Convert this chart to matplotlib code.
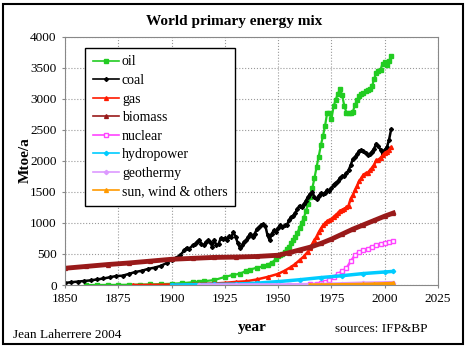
import matplotlib.pyplot as plt
from matplotlib.patches import Rectangle

plt.rcParams['font.family'] = ['Liberation Serif', 'DejaVu Serif']

# oil
oil_years = [1860, 1865, 1870, 1875, 1880, 1885, 1890, 1895, 1900, 1905, 1910, 1913, 1915,
             1920, 1925, 1929, 1932, 1935, 1937, 1940, 1943, 1945, 1947, 1949,
             1950, 1951, 1952, 1953, 1954, 1955, 1956, 1957, 1958, 1959, 1960, 1961, 1962,
             1963, 1964, 1965, 1966, 1967, 1968, 1969, 1970, 1971, 1972, 1973, 1974, 1975,
             1976, 1977, 1978, 1979, 1980, 1981, 1982, 1983, 1984, 1985, 1986, 1987, 1988,
             1989, 1990, 1991, 1992, 1993, 1994, 1995, 1996, 1997, 1998, 1999, 2000, 2001,
             2002, 2003]
oil = [0, 1, 1, 2, 4, 6, 10, 14, 20, 30, 45, 55, 60,
       80, 130, 165, 180, 230, 250, 280, 300, 330, 360, 420,
       460, 490, 500, 540, 575, 620, 670, 720, 770, 840, 920, 1000, 1080,
       1190, 1300, 1420, 1560, 1720, 1900, 2070, 2250, 2400, 2570, 2780, 2770, 2680,
       2880, 2990, 3080, 3160, 3060, 2890, 2780, 2770, 2780, 2790, 2900, 2980, 3040,
       3080, 3100, 3120, 3140, 3160, 3200, 3320, 3420, 3450, 3470, 3570, 3590, 3550,
       3610, 3690]

# coal
coal_years = [1850, 1853, 1856, 1859, 1862, 1865, 1868, 1871, 1874, 1877, 1880, 1883, 1886,
              1889, 1892, 1895, 1898, 1900, 1902, 1904, 1906, 1907, 1908, 1910, 1911, 1912,
              1913, 1914, 1915, 1916, 1917, 1918, 1919, 1920, 1921, 1922, 1923, 1924, 1925,
              1926, 1927, 1928, 1929, 1930, 1931, 1932, 1933, 1934, 1935, 1936, 1937, 1938,
              1939, 1940, 1941, 1942, 1943, 1944, 1945, 1946, 1947, 1948, 1949, 1950, 1951,
              1952, 1953, 1954, 1955, 1956, 1957, 1958, 1959, 1960, 1961, 1962, 1963, 1964,
              1965, 1966, 1967, 1968, 1969, 1970, 1971, 1972, 1973, 1974, 1975, 1976, 1977,
              1978, 1979, 1980, 1981, 1982, 1983, 1984, 1985, 1986, 1987, 1988, 1989, 1990,
              1991, 1992, 1993, 1994, 1995, 1996, 1997, 1998, 1999, 2000, 2001, 2002, 2003]
coal = [35, 45, 55, 65, 75, 90, 105, 125, 145, 150, 180, 210, 230,
        260, 280, 310, 360, 410, 440, 480, 560, 600, 580, 640, 660, 700,
        730, 660, 640, 690, 720, 700, 620, 730, 640, 660, 750, 740, 750,
        720, 790, 780, 850, 780, 680, 600, 640, 700, 720, 780, 830, 780,
        830, 900, 930, 960, 980, 950, 800, 720, 830, 880, 860, 920, 960,
        940, 960, 960, 1040, 1090, 1120, 1160, 1230, 1280, 1250, 1300, 1360, 1420,
        1470, 1500, 1420, 1380, 1440, 1480, 1470, 1490, 1530, 1520, 1560, 1620, 1650,
        1670, 1730, 1750, 1760, 1800, 1850, 1930, 2030, 2060, 2110, 2160, 2180, 2160,
        2120, 2100, 2110, 2150, 2200, 2280, 2240, 2180, 2110, 2180, 2220, 2340, 2510]

# gas
gas_years = [1882, 1890, 1900, 1910, 1920, 1925, 1930, 1935, 1940, 1945, 1950, 1953, 1956,
             1958, 1960, 1962, 1964, 1965, 1966, 1967, 1968, 1969, 1970, 1971, 1972, 1973,
             1974, 1975, 1976, 1977, 1978, 1979, 1980, 1981, 1982, 1983, 1984, 1985, 1986,
             1987, 1988, 1989, 1990, 1991, 1992, 1993, 1994, 1995, 1996, 1997, 1998, 1999,
             2000, 2001, 2002, 2003]
gas = [0, 2, 8, 15, 25, 35, 50, 60, 90, 130, 180, 230, 290,
       340, 400, 460, 540, 600, 660, 720, 780, 850, 910, 960, 1000, 1030,
       1040, 1060, 1100, 1130, 1160, 1200, 1210, 1230, 1250, 1280, 1390, 1450, 1530,
       1600, 1680, 1720, 1780, 1800, 1810, 1850, 1890, 1940, 2010, 2020, 2050, 2090,
       2130, 2150, 2170, 2220]

# biomass
bio_years = [1850, 1860, 1870, 1880, 1890, 1900, 1910, 1920, 1930, 1940, 1950, 1955, 1960,
             1965, 1970, 1975, 1980, 1985, 1990, 1995, 2000, 2004]
biomass = [270, 300, 330, 355, 385, 415, 430, 445, 450, 460, 480, 520, 565,
           610, 670, 740, 820, 900, 970, 1040, 1110, 1160]

# nuclear
nuc_years = [1955, 1960, 1965, 1968, 1970, 1972, 1974, 1976, 1978, 1980, 1982, 1984, 1986,
             1988, 1990, 1992, 1994, 1996, 1998, 2000, 2002, 2004]
nuclear = [0, 3, 10, 20, 30, 50, 80, 130, 180, 220, 270, 380, 480,
           530, 560, 580, 620, 640, 660, 680, 700, 710]

# hydropower
hyd_years = [1900, 1910, 1920, 1930, 1940, 1950, 1960, 1970, 1980, 1990, 2000, 2004]
hydro = [0, 5, 10, 15, 30, 55, 85, 120, 150, 185, 210, 220]

# geothermy
geo_years = [1913, 1930, 1950, 1960, 1970, 1980, 1990, 2000, 2004]
geo = [0, 1, 2, 5, 10, 20, 30, 35, 38]

# sun, wind & others
sun_years = [1965, 1970, 1975, 1980, 1985, 1990, 1995, 2000, 2004]
sun = [0, 1, 2, 5, 7, 10, 15, 20, 25]

fig = plt.figure(figsize=(4.68, 3.51), dpi=100)
ax = fig.add_axes([0.139, 0.188, 0.797, 0.707])

ax.plot(oil_years, oil, color='#22cc22', marker='s', ms=2.8, lw=1.6, label='oil')
ax.plot(coal_years, coal, color='black', marker='D', ms=2, lw=1.8, label='coal')
ax.plot(gas_years, gas, color='#ff1a00', marker='^', ms=2.8, lw=1.8, label='gas')
ax.plot(bio_years, biomass, color='#991a1a', marker='^', ms=2.8, lw=3.5, label='biomass')
ax.plot(nuc_years, nuclear, color='#ff44ff', marker='s', ms=2.8, mfc='white', lw=1.8, label='nuclear')
ax.plot(hyd_years, hydro, color='#00ccff', marker='D', ms=2.2, lw=2.5, label='hydropower')
ax.plot(geo_years, geo, color='#dd99ff', marker='D', ms=2.2, lw=2.5, label='geothermy')
ax.plot(sun_years, sun, color='#ff9900', marker='^', ms=2.8, lw=2.5, label='sun, wind & others')

ax.set_xlim(1850, 2025)
ax.set_ylim(0, 4000)
ax.set_xticks(range(1850, 2026, 25))
ax.set_yticks(range(0, 4001, 500))
ax.grid(True, color='#999999', ls=':', lw=0.8)
ax.set_axisbelow(True)
for s in ax.spines.values():
    s.set_color('#888888')
    s.set_linewidth(0.8)
ax.tick_params(labelsize=9.5, length=2, color='#888888', pad=4)

leg = ax.legend(loc='upper left', bbox_to_anchor=(0.054, 0.956), fontsize=10,
                frameon=True, fancybox=False, edgecolor='black', framealpha=1,
                handlelength=1.9, labelspacing=0.4, borderaxespad=0, handletextpad=0.2,
                borderpad=0.55)
leg.get_frame().set_linewidth(1)
for line in leg.get_lines():
    line.set_linewidth(1.2)

fig.text(0.5, 0.94, 'World primary energy mix', ha='center', va='center',
         fontsize=11, fontweight='bold')
fig.text(0.055, 0.545, 'Mtoe/a', rotation=90, ha='center', va='center',
         fontsize=11, fontweight='bold')
fig.text(0.538, 0.068, 'year', ha='center', va='center', fontsize=11, fontweight='bold')
fig.text(0.716, 0.063, 'sources: IFP&BP', ha='left', va='center', fontsize=9.5)
fig.text(0.028, 0.045, 'Jean Laherrere 2004', ha='left', va='center', fontsize=9.5)

fig.patches.append(Rectangle((0.007, 0.02), 0.983, 0.97, transform=fig.transFigure,
                             fill=False, edgecolor='black', lw=1.5))

fig.savefig('out.png', dpi=100)
